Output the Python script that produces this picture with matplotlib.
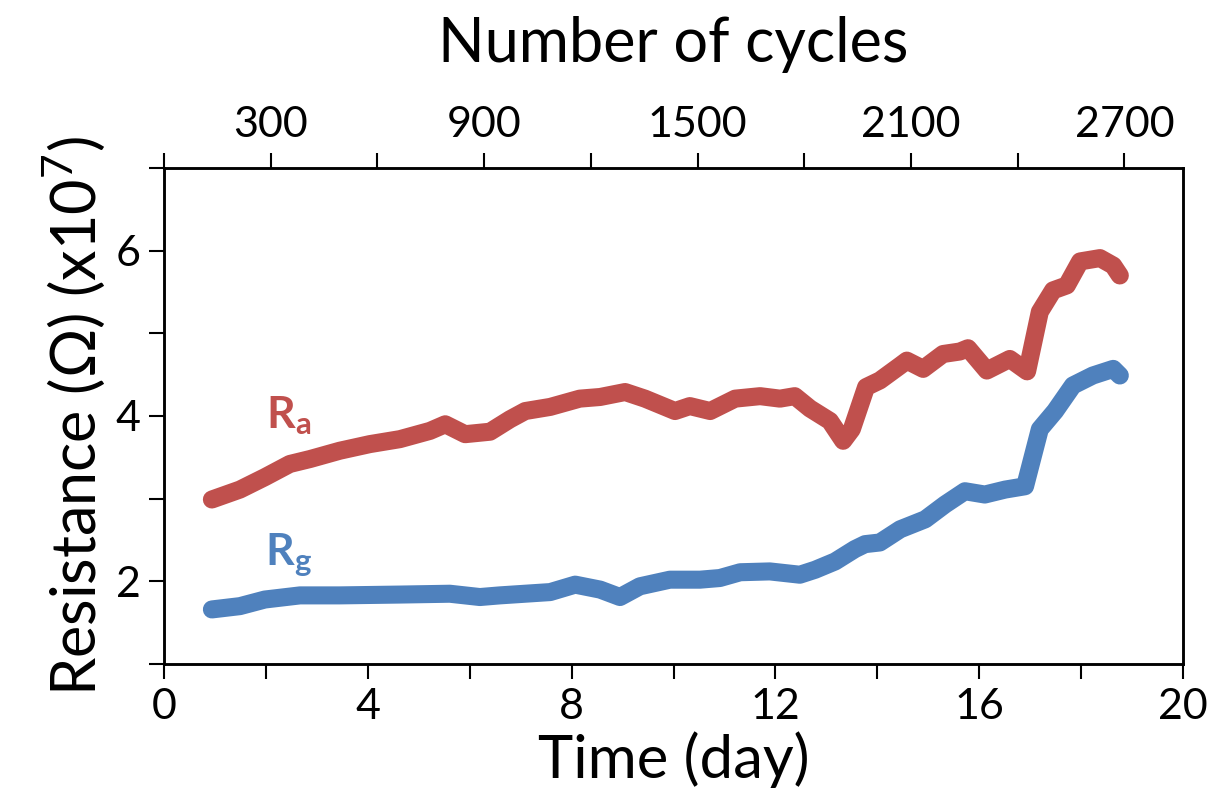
import numpy as np
import matplotlib
matplotlib.use('Agg')
import matplotlib.pyplot as plt

plt.rcParams['font.family'] = ['Lato', 'DejaVu Sans']
plt.rcParams['mathtext.fontset'] = 'custom'
plt.rcParams['mathtext.rm'] = 'Lato'
plt.rcParams['mathtext.bf'] = 'Lato:bold'

# Ra curve (x10^7 ohm) vs time in days
ra_day = [0.94, 1.49, 1.98, 2.47, 2.87, 3.45, 4.04, 4.63, 5.22, 5.52, 5.91, 6.40,
          6.79, 7.09, 7.58, 8.16, 8.56, 9.05, 9.44, 10.03, 10.32, 10.72, 11.21, 11.70,
          12.09, 12.38, 12.68, 13.07, 13.33, 13.50, 13.78, 14.05, 14.45, 14.58, 14.90,
          15.29, 15.62, 15.78, 16.15, 16.60, 16.94, 17.19, 17.45, 17.72, 17.98, 18.37,
          18.63, 18.76]
ra_val = [2.99, 3.11, 3.26, 3.42, 3.48, 3.58, 3.66, 3.72, 3.82, 3.90, 3.78, 3.81,
          3.96, 4.06, 4.11, 4.21, 4.23, 4.29, 4.21, 4.06, 4.12, 4.06, 4.21, 4.24,
          4.21, 4.24, 4.09, 3.94, 3.70, 3.84, 4.35, 4.43, 4.61, 4.67, 4.57,
          4.75, 4.78, 4.82, 4.55, 4.69, 4.54, 5.26, 5.52, 5.58, 5.87, 5.91,
          5.82, 5.70]

# Rg curve
rg_day = [0.94, 1.49, 1.98, 2.67, 3.45, 4.63, 5.61, 6.20, 6.59, 7.58, 8.07, 8.56,
          8.95, 9.34, 9.93, 10.52, 10.91, 11.31, 11.89, 12.48, 12.78, 13.17, 13.56,
          13.76, 14.05, 14.45, 14.94, 15.33, 15.72, 16.11, 16.51, 16.90, 17.19, 17.49,
          17.84, 18.23, 18.63, 18.76]
rg_val = [1.66, 1.70, 1.78, 1.83, 1.83, 1.84, 1.85, 1.81, 1.83, 1.87, 1.96, 1.90,
          1.81, 1.94, 2.02, 2.02, 2.04, 2.11, 2.12, 2.08, 2.14, 2.24, 2.39,
          2.45, 2.47, 2.63, 2.75, 2.93, 3.09, 3.05, 3.11, 3.15, 3.84, 4.06,
          4.37, 4.49, 4.57, 4.49]

red = '#C0504D'
blue = '#4F81BD'

fig = plt.figure(figsize=(12.11, 7.96), dpi=100)
ax = fig.add_axes([164 / 1211, 1 - 664 / 796, (1183 - 164) / 1211, (664 - 168) / 796])

ax.plot(ra_day, ra_val, color=red, lw=13, solid_capstyle='round', solid_joinstyle='round')
ax.plot(rg_day, rg_val, color=blue, lw=13, solid_capstyle='round', solid_joinstyle='round')

ax.text(2.45, 4.0, r'$\mathbf{R_a}$', color=red, fontsize=32, ha='center', va='center')
ax.text(2.45, 2.32, r'$\mathbf{R_g}$', color=blue, fontsize=32, ha='center', va='center')

ax.set_xlim(0, 20)
ax.set_ylim(1, 7)
ax.set_xticks(np.arange(0, 21, 2))
ax.set_xticklabels([str(v) if v % 4 == 0 else '' for v in range(0, 21, 2)])
ax.set_yticks(np.arange(1, 8, 1))
ax.set_yticklabels(['', '2', '', '4', '', '6', ''])
ax.tick_params(axis='both', direction='out', length=11, width=1.5, labelsize=31, pad=6)
ax.set_xlabel('Time (day)', fontsize=43, labelpad=4)
ax.set_ylabel('Resistance (Ω) (x10$^7$)', fontsize=44, labelpad=6)
for s in ax.spines.values():
    s.set_linewidth(1.8)

top = ax.twiny()
top.set_xlim(0, 2865)
top.set_xticks(np.arange(0, 2701, 300))
top.set_xticklabels([str(v) if v % 600 == 300 else '' for v in range(0, 2701, 300)])
top.tick_params(axis='x', direction='out', length=11, width=1.5, labelsize=31, pad=6)
top.set_xlabel('Number of cycles', fontsize=44, labelpad=32)
for s in top.spines.values():
    s.set_linewidth(1.8)

fig.savefig('out.png', dpi=100)
